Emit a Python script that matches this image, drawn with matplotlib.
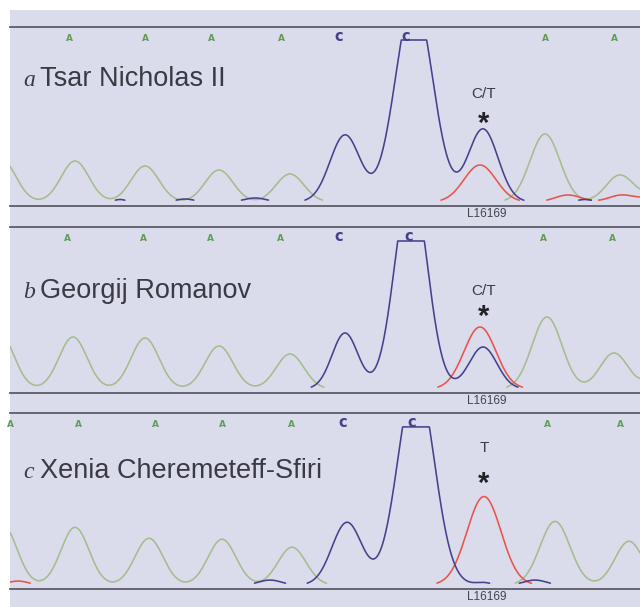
import numpy as np
import matplotlib.pyplot as plt
from matplotlib.patches import Rectangle

# ---------------- data ----------------
panel_letters = ['a', 'b', 'c']
panel_names = ['Tsar Nicholas II', 'Georgij Romanov', 'Xenia Cheremeteff-Sfiri']
site_calls = ['C/T', 'C/T', 'T']
site_label = 'L16169'
site_pos = 484

# base calls printed above each trace
a_call_pos = [69, 145, 211, 281, 339, 406, 545, 614]
b_call_pos = [67, 143, 210, 280, 339, 409, 543, 612]
c_call_pos = [10, 78, 155, 222, 291, 343, 412, 547, 620]
a_calls = ['A', 'A', 'A', 'A', 'C', 'C', 'A', 'A']
b_calls = ['A', 'A', 'A', 'A', 'C', 'C', 'A', 'A']
c_calls = ['A', 'A', 'A', 'A', 'A', 'C', 'C', 'A', 'A']

# peak positions (scan units), heights (signal units), widths (scan units)
a_green_pos = [2, 75, 145, 219, 290, 545, 620, 665]
a_green_h = [42, 41, 36, 32, 28, 68, 27, 16]
a_green_w = [14, 14, 14, 14, 14, 15, 14, 14]
a_blue_pos = [120, 185, 255, 345, 414, 483, 585]
a_blue_h = [2.5, 3, 4, 67, 205, 73, 2.5]
a_blue_w = [6, 9, 11, 15, 18.5, 15, 8]
a_red_pos = [480, 568, 622, 665]
a_red_h = [37, 7, 7, 12]
a_red_w = [16, 13, 13, 14]

b_green_pos = [0, 73, 145, 219, 290, 547, 614, 665]
b_green_h = [55, 52, 51, 43, 35, 72, 36, 20]
b_green_w = [14, 14, 14, 14, 14, 15, 14, 14]
b_blue_pos = [345, 411, 483]
b_blue_h = [56, 210, 42]
b_blue_w = [13, 16, 14]
b_red_pos = [480]
b_red_h = [62]
b_red_w = [16]

c_green_pos = [3, 75, 149, 222, 292, 555, 629]
c_green_h = [60, 58, 47, 46, 38, 64, 44]
c_green_w = [14, 14, 14, 14, 14, 15, 14]
c_blue_pos = [270, 347, 416, 483, 535]
c_blue_h = [5, 63, 210, 2.5, 5]
c_blue_w = [11, 15, 18, 8, 11]
c_red_pos = [18, 484]
c_red_h = [4, 89]
c_red_w = [10, 17]

saturation = [162, 148, 159]
signal_top = [175, 162, 173]

# ---------------- style ----------------
BG = '#dadcec'
GREEN = '#a5bd8c'
BLUE = '#44428c'
RED = '#e8544a'
LINE = '#5c5c68'
TXT = '#3a3a44'

W, H = 640, 607
fig = plt.figure(figsize=(W / 100, H / 100), dpi=100)
fig.patch.set_facecolor('white')
fig.add_artist(Rectangle((10 / W, 0), 1 - 10 / W, 1 - 10 / H,
                         transform=fig.transFigure, facecolor=BG,
                         edgecolor='none', zorder=0))

# panel frame rows (pixel rows of top and bottom rules)
rows = [(27, 206), (227, 393), (413, 589)]

panels = [
    ((a_green_pos, a_green_h, a_green_w), (a_red_pos, a_red_h, a_red_w),
     (a_blue_pos, a_blue_h, a_blue_w), a_call_pos, a_calls),
    ((b_green_pos, b_green_h, b_green_w), (b_red_pos, b_red_h, b_red_w),
     (b_blue_pos, b_blue_h, b_blue_w), b_call_pos, b_calls),
    ((c_green_pos, c_green_h, c_green_w), (c_red_pos, c_red_h, c_red_w),
     (c_blue_pos, c_blue_h, c_blue_w), c_call_pos, c_calls),
]

x = np.linspace(10, 640, 1400)


def trace(pos, h, w):
    y = np.zeros_like(x)
    for p, a, s in zip(pos, h, w):
        y += a * np.exp(-(x - p) ** 2 / (2 * s ** 2))
    return y


label_off = [42.5, 51, 47]
call_off = [48, 46, 25]
star_off = [70, 65, 51]

for i, (top, bot) in enumerate(rows):
    ax = fig.add_axes([10 / W, 1 - bot / H, 1 - 10 / W, (bot - top) / H])
    ax.set_facecolor('none')
    green, red, blue, cp, cl = panels[i]
    sat = saturation[i]
    for (pos, h, w), col in [(green, GREEN), (red, RED), (blue, BLUE)]:
        y = np.minimum(trace(pos, h, w), sat)
        y = np.where(y > 1.8, y, np.nan)
        ax.plot(x, y, color=col, lw=1.15, solid_capstyle='round')
    ax.set_xlim(10, 640)
    ax.set_ylim(-4, signal_top[i])
    for s in ['left', 'right']:
        ax.spines[s].set_visible(False)
    for s in ['top', 'bottom']:
        ax.spines[s].set_color(LINE)
        ax.spines[s].set_linewidth(1.3)
    ax.set_xticks([])
    ax.set_yticks([])

    # base calls
    for p, c in zip(cp, cl):
        if c == 'A':
            ax.annotate(c, (p, 1), xycoords=('data', 'axes fraction'),
                        xytext=(0, -5), textcoords='offset points',
                        ha='center', va='top', fontsize=6.5, color='#5f9e55',
                        fontweight='bold', family='DejaVu Sans')
        else:
            ax.annotate(c.lower(), (p, 1), xycoords=('data', 'axes fraction'),
                        xytext=(0, -1.5), textcoords='offset points',
                        ha='center', va='top', fontsize=10.5, color=BLUE,
                        fontweight='bold', family='DejaVu Sans')

    # sample label
    ax.annotate(panel_letters[i], (0, 1), xycoords='axes fraction',
                xytext=(9.5, -label_off[i]), textcoords='offset points',
                ha='left', va='baseline', fontsize=17, color=TXT,
                style='italic', family='Liberation Serif')
    ax.annotate(panel_names[i], (0, 1), xycoords='axes fraction',
                xytext=(21.5, -label_off[i]), textcoords='offset points',
                ha='left', va='baseline', fontsize=19.5, color=TXT,
                family='Liberation Sans')

    # site annotation
    ax.annotate(site_calls[i], (site_pos, 1), xycoords=('data', 'axes fraction'),
                xytext=(0, -call_off[i]), textcoords='offset points',
                ha='center', va='center', fontsize=11, color=TXT,
                family='Liberation Sans')
    ax.annotate('*', (site_pos, 1), xycoords=('data', 'axes fraction'),
                xytext=(0, -star_off[i]), textcoords='offset points',
                ha='center', va='center', fontsize=21, color='#222226',
                family='Liberation Sans', fontweight='bold')

    # locus label under each panel
    ax.annotate(site_label, (site_pos + 3, 0), xycoords=('data', 'axes fraction'),
                xytext=(0, -6), textcoords='offset points',
                ha='center', va='center', fontsize=8.5, color='#44444c',
                family='Liberation Sans')

fig.savefig('out.png', dpi=100, facecolor=fig.get_facecolor())
